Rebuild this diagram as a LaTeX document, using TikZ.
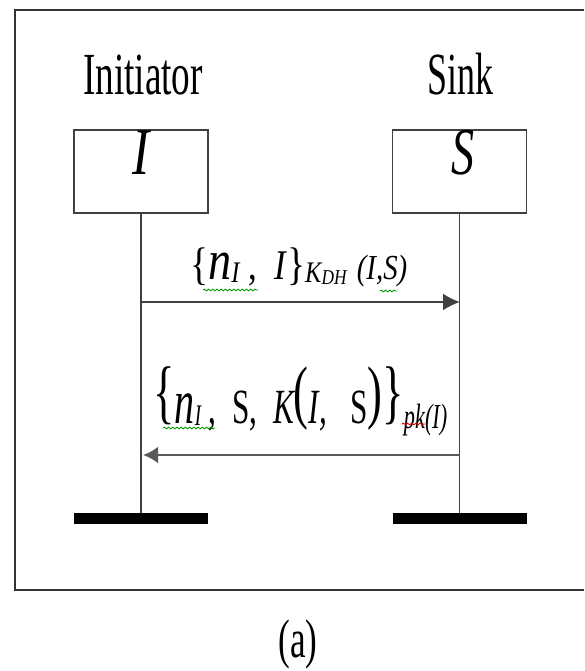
\documentclass[tikz,border=0pt]{standalone}
\usepackage{fontspec}
\setmainfont{Liberation Serif}
\usepackage{graphicx}
\usepackage{xcolor}
\usetikzlibrary{arrows.meta,decorations.pathmorphing}

% squeeze text to a given width, keeping its height
\newcommand{\fitw}[2]{\resizebox{#1}{\height}{#2}}
\newcommand{\fsz}[1]{\fontsize{#1}{#1}\selectfont}

\begin{document}
\begin{tikzpicture}[x=0.02cm, y=-0.02cm,
    txt/.style={inner sep=0pt, anchor=base},
    actorbox/.style={draw=black!75, line width=1.1pt, minimum width=2.68cm, minimum height=1.66cm, inner sep=0pt},
    endbar/.style={fill=black, minimum width=2.68cm, minimum height=0.22cm, inner sep=0pt},
    lifeline/.style={black!75, line width=0.8pt},
    spell/.style={decorate, decoration={snake, amplitude=0.5pt, segment length=2.4pt}, line width=0.5pt}]
    \useasboundingbox (0,0) rectangle (584,671);

    % Frame (right side runs off the picture)
    \draw[black!80, line width=1.4pt] (584,10) -| (15,590) -- (584,590);

    % Titles
    \node[txt] (titleI) at (143,95) {\fsz{34}\fitw{2.4cm}{Initiator}};
    \node[txt] (titleS) at (460,95) {\fsz{34}\fitw{1.32cm}{Sink}};

    % Boxes
    \node[actorbox] (boxI) at (141,171.5) {};
    \node[actorbox] (boxS) at (459.5,171.5) {};
    \node[txt] (letI) at (141,175) {\fsz{38}\fitw{0.34cm}{\itshape I}};
    \node[txt] (letS) at (463,175) {\fsz{38}\fitw{0.46cm}{\itshape S}};

    % End bars
    \node[endbar] (barI) at (141,518.5) {};
    \node[endbar] (barS) at (459.5,518.5) {};

    % Lifelines
    \draw[lifeline] (boxI) -- (barI);
    \draw[lifeline] (boxS) -- (barS);

    % Messages
    \coordinate (m1I) at (141,302);
    \coordinate (m1S) at (460,302);
    \coordinate (m2S) at (460,455);
    \coordinate (m2I) at (143,455);
    \draw[-{Latex[length=0.34cm,width=0.34cm]}, black!75, line width=1.1pt] (m1I) -- (m1S);
    \draw[-{Latex[length=0.3cm,width=0.34cm]}, black!65, line width=1.7pt] (m2S) -- (m2I);

    % Message labels
    \node[txt, anchor=base west] (lab1) at (190,280) {\fitw{4.34cm}{%
        {\fsz{26}\{}%
        {\fsz{32}\itshape n}%
        \raisebox{-0.06cm}{\fsz{17}\itshape I}%
        {\fsz{24}\ ,\ \ \itshape I\/}%
        {\fsz{26}\}}%
        \raisebox{-0.06cm}{\fsz{17}\itshape K}%
        \raisebox{-0.1cm}{\fsz{12}\itshape DH}%
        \hspace{0.25cm}%
        {\fsz{20}\itshape (I,S)}}};
    \node[txt, anchor=base west] (lab2) at (153,423) {\fitw{5.88cm}{%
        \raisebox{0.15cm}{\fsz{40}\{}%
        {\fsz{36}\itshape n}%
        \raisebox{-0.04cm}{\fsz{17}\itshape I}%
        {\fsz{28}\ ,\ \ S,\ \ \itshape K}%
        \raisebox{0.15cm}{\fsz{40}(}%
        {\fsz{28}\itshape I,\ \ \ \upshape S}%
        \raisebox{0.15cm}{\fsz{40})\}}%
        \raisebox{-0.1cm}{\fsz{20}\itshape pk(I)}}};

    % Spell-check marks
    \draw[spell, green!60!black] (203,290) -- (258,290);
    \draw[spell, green!60!black] (380,291) -- (397,291);
    \draw[spell, green!60!black] (163,428) -- (215,428);
    \draw[spell, red!85!black] (402,424) -- (425,424);

    % Caption
    \node[txt] (cap) at (298,657) {\fsz{31}\fitw{0.78cm}{(a)}};
\end{tikzpicture}
\end{document}
